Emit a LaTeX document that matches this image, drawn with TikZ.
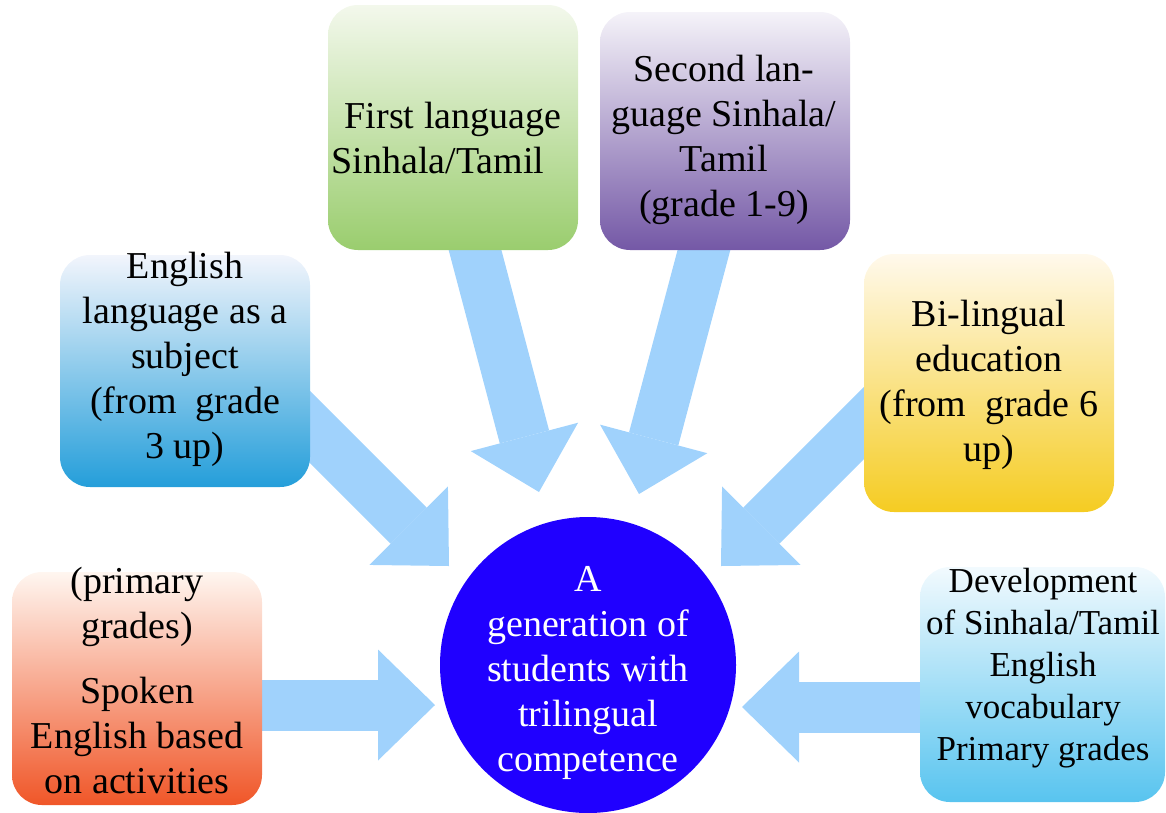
\documentclass[tikz,border=0pt]{standalone}
\usepackage{fontspec}
\setmainfont{Liberation Serif}
\usetikzlibrary{arrows.meta,calc}
\definecolor{arrowc}{RGB}{160,210,252}
\definecolor{circc}{RGB}{32,0,255}
\definecolor{orangeB}{RGB}{240,86,40}
\definecolor{orangeT}{RGB}{255,246,240}
\definecolor{devB}{RGB}{88,196,239}
\definecolor{devT}{RGB}{242,250,254}
\definecolor{engB}{RGB}{36,158,218}
\definecolor{engT}{RGB}{242,245,252}
\definecolor{greenB}{RGB}{154,205,110}
\definecolor{greenT}{RGB}{243,248,236}
\definecolor{purpB}{RGB}{116,88,166}
\definecolor{purpT}{RGB}{245,243,249}
\definecolor{yelB}{RGB}{245,204,34}
\definecolor{yelT}{RGB}{255,249,236}
\begin{document}
\begin{tikzpicture}[x=1pt,y=-1pt,
  fatarrow/.style={draw=arrowc,line width=51pt,line cap=butt,
    -{Triangle[length=57pt,width=111pt,line width=0pt]}},
  box/.style={rounded corners=30pt,draw=none,inner sep=0pt,minimum width=250pt},
  txt/.style={align=center,inner sep=0pt,font=\fontsize{38}{45}\selectfont},
  txts/.style={align=center,inner sep=0pt,font=\fontsize{35}{42}\selectfont}]
\useasboundingbox (0,0) rectangle (1166,812);
% arrow end points
\coordinate (sp1) at (250,705);   \coordinate (sp2) at (435,705);
\coordinate (dv1) at (935,707);   \coordinate (dv2) at (742,707);
\coordinate (en1) at (290,407);   \coordinate (en2) at (449,566);
\coordinate (gr1) at (470,231);   \coordinate (gr2) at (539,492);
\coordinate (pu1) at (709,231);   \coordinate (pu2) at (639,494);
\coordinate (bi1) at (885,402);   \coordinate (bi2) at (721,566);
\draw[fatarrow] (sp1) -- (sp2);
\draw[fatarrow] (dv1) -- (dv2);
\draw[fatarrow] (en1) -- (en2);
\draw[fatarrow] (gr1) -- (gr2);
\draw[fatarrow] (pu1) -- (pu2);
\draw[fatarrow] (bi1) -- (bi2);
% boxes
\node[box,top color=orangeT,bottom color=orangeB,minimum height=233pt] (spoken) at (137,688.5) {};
\node[box,top color=devT,bottom color=devB,minimum width=245pt,minimum height=235pt] (dev) at (1042.5,684.5) {};
\node[box,top color=engT,bottom color=engB,minimum height=232pt] (eng) at (185,371) {};
\node[box,top color=greenT,bottom color=greenB,minimum height=245pt] (green) at (453,127.5) {};
\node[box,top color=purpT,bottom color=purpB,minimum height=238pt] (purple) at (725,131) {};
\node[box,top color=yelT,bottom color=yelB,minimum height=258pt] (yellow) at (989,383) {};
\node[circle,fill=circc,minimum size=296pt,inner sep=0pt] (goal) at (588,665) {};
% texts
\node[txt] (spokenT) at (137,680) {(primary\\grades)\\[20pt]Spoken\\English based\\on activities};
\node[txts] (devT) at (1043,668) {Development\\of Sinhala/Tamil\\English\\vocabulary\\Primary grades};
\node[txt] (engT) at (185,359) {English\\language as a\\subject\\ (from\ \ grade\\3 up)};
\node[txt] (greenT) at (453,138) {First language\\Sinhala/Tamil\hspace*{30pt}};
\node[txt] (purpleT) at (724,140) {Second lan-\\guage Sinhala/\\Tamil\\(grade 1-9)};
\node[txt] (yellowT) at (989,385) {Bi-lingual\\education\\(from\ \ grade 6\\up)};
\node[txt,text=white] (goalT) at (588,673) {A\\generation of\\students with\\trilingual\\competence};
\end{tikzpicture}
\end{document}
